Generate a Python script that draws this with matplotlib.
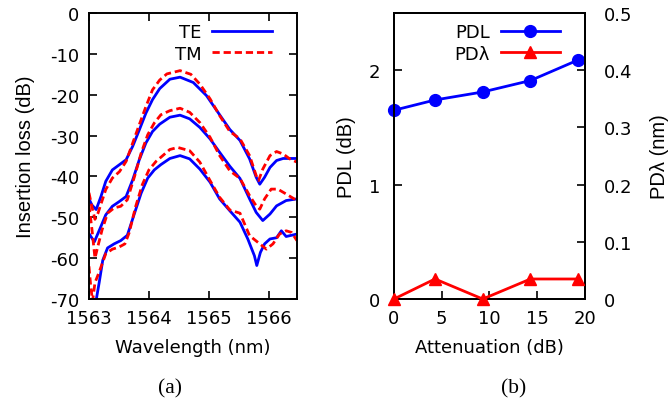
import numpy as np
import matplotlib
matplotlib.use("Agg")
import matplotlib.pyplot as plt

# the reference is stretched sideways: wide DejaVu for horizontal text, narrower Liberation for vertical
plt.rcParams['font.family'] = ['DejaVu Sans']
plt.rcParams['font.size'] = 13
plt.rcParams['axes.unicode_minus'] = False

# (a) insertion loss spectra, three attenuation settings
te1_wl = [1563.00, 1563.05, 1563.12, 1563.20, 1563.28, 1563.39, 1563.51, 1563.62, 1563.73, 1563.84,
          1563.95, 1564.06, 1564.18, 1564.35, 1564.52, 1564.74, 1564.96, 1565.18, 1565.35,
          1565.52, 1565.68, 1565.79, 1565.85, 1565.93, 1566.02, 1566.13, 1566.24, 1566.47]
te1_il = [-45.5, -47.0, -48.1, -44.9, -41.2, -38.4, -37.1, -35.9, -32.6, -28.6,
          -24.5, -21.2, -18.5, -16.2, -15.7, -17.0, -20.2, -24.9, -28.5,
          -31.2, -35.7, -40.2, -41.9, -40.2, -37.8, -36.1, -35.6, -35.6]

tm1_wl = [1563.00, 1563.05, 1563.10, 1563.15, 1563.28, 1563.39, 1563.51, 1563.62, 1563.73, 1563.84,
          1563.95, 1564.06, 1564.18, 1564.30, 1564.52, 1564.70, 1564.85, 1565.02, 1565.18, 1565.35,
          1565.52, 1565.68, 1565.79, 1565.83, 1565.90, 1566.02, 1566.13, 1566.24, 1566.35, 1566.47]
tm1_il = [-44.0, -47.5, -50.5, -49.0, -43.2, -40.4, -38.8, -36.3, -31.8, -27.3,
          -22.9, -18.8, -16.4, -14.9, -14.1, -15.0, -17.4, -21.0, -25.1, -29.0,
          -30.8, -34.9, -39.8, -41.0, -38.2, -34.9, -33.9, -34.5, -35.7, -36.5]

te2_wl = [1563.00, 1563.09, 1563.20, 1563.28, 1563.39, 1563.51, 1563.62, 1563.73, 1563.84, 1563.95,
          1564.06, 1564.18, 1564.35, 1564.52, 1564.68, 1564.85, 1565.02, 1565.18, 1565.35, 1565.52,
          1565.68, 1565.79, 1565.90, 1566.02, 1566.13, 1566.29, 1566.47]
te2_il = [-54.0, -56.0, -52.2, -49.4, -47.3, -46.1, -44.9, -40.8, -35.9, -31.8,
          -29.0, -27.2, -25.5, -25.0, -25.9, -28.0, -30.8, -34.1, -37.5, -40.5,
          -45.5, -48.8, -50.8, -49.2, -47.2, -45.9, -45.5]

tm2_wl = [1563.00, 1563.05, 1563.10, 1563.15, 1563.22, 1563.31, 1563.42, 1563.53, 1563.64, 1563.76,
          1563.87, 1563.98, 1564.09, 1564.20, 1564.35, 1564.52, 1564.68, 1564.85, 1565.02, 1565.18,
          1565.35, 1565.52, 1565.68, 1565.79, 1565.85, 1565.93, 1566.04, 1566.15, 1566.29, 1566.47]
tm2_il = [-47.0, -53.0, -60.0, -57.0, -53.0, -49.0, -47.7, -47.3, -45.7, -40.0,
          -34.3, -29.8, -26.9, -24.9, -23.9, -23.3, -24.3, -26.8, -30.4, -34.9,
          -38.6, -40.5, -44.7, -47.2, -48.0, -45.5, -43.1, -43.1, -44.3, -45.9]

te3_wl = [1563.03, 1563.10, 1563.17, 1563.23, 1563.31, 1563.42, 1563.53, 1563.64, 1563.76, 1563.87,
          1563.98, 1564.09, 1564.20, 1564.35, 1564.52, 1564.68, 1564.85, 1565.02, 1565.18, 1565.35,
          1565.52, 1565.65, 1565.76, 1565.80, 1565.86, 1565.93, 1566.02, 1566.13, 1566.21, 1566.29, 1566.47]
te3_il = [-73.0, -72.0, -66.0, -60.5, -57.5, -56.5, -55.7, -54.4, -49.0, -44.1,
          -40.4, -38.4, -37.1, -35.6, -34.9, -35.7, -38.2, -41.4, -45.5, -48.4,
          -51.2, -55.3, -59.4, -61.8, -58.6, -56.5, -55.3, -55.0, -53.3, -54.7, -54.1]

tm3_wl = [1563.00, 1563.03, 1563.06, 1563.10, 1563.17, 1563.28, 1563.39, 1563.50, 1563.60, 1563.67,
          1563.78, 1563.89, 1564.00, 1564.12, 1564.20, 1564.35, 1564.48, 1564.68, 1564.85, 1565.02,
          1565.18, 1565.35, 1565.52, 1565.68, 1565.85, 1565.96, 1566.07, 1566.18, 1566.29, 1566.38, 1566.47]
tm3_il = [-62.0, -67.0, -70.5, -66.0, -63.4, -58.9, -57.8, -57.3, -56.5, -53.8,
          -47.3, -42.0, -38.4, -36.3, -35.3, -33.4, -32.9, -33.7, -36.5, -41.0,
          -45.1, -48.2, -49.0, -54.5, -56.5, -57.8, -56.5, -54.1, -53.3, -53.7, -55.7]

# (b) polarization dependence vs attenuation
atten = [0, 4.3, 9.3, 14.3, 19.3]
pdl = [1.65, 1.74, 1.81, 1.91, 2.09]
pd_lambda = [0.0, 0.035, 0.0, 0.035, 0.035]

fig = plt.figure(figsize=(6.7, 4.02), dpi=100)
ax1 = fig.add_axes([0.1328, 0.2537, 0.3104, 0.7114])
ax2 = fig.add_axes([0.588, 0.2537, 0.285, 0.7114])

blue = '#0000ff'
red = '#ff0000'
vfont = dict(family='Liberation Sans', fontsize=14.5)

te_sets = [(te1_wl, te1_il), (te2_wl, te2_il), (te3_wl, te3_il)]
tm_sets = [(tm1_wl, tm1_il), (tm2_wl, tm2_il), (tm3_wl, tm3_il)]
for i, (wl, il) in enumerate(te_sets):
    ax1.plot(wl, il, color=blue, lw=2, label='TE' if i == 0 else None)
for i, (wl, il) in enumerate(tm_sets):
    ax1.plot(wl, il, color=red, lw=2, ls=(0, (2.6, 1.4)), label='TM' if i == 0 else None)

ax1.set_xlim(1563, 1566.47)
ax1.set_ylim(-70, 0)
ax1.set_xticks([1563, 1564, 1565, 1566])
ax1.set_yticks(np.arange(-70, 1, 10))
ax1.set_xlabel('Wavelength (nm)', labelpad=8)
ax1.set_ylabel('Insertion loss (dB)', labelpad=11, **vfont)
ax1.tick_params(direction='in', length=6, width=1.2, top=True, right=True, pad=7)
ax1.legend(loc='upper right', bbox_to_anchor=(0.88, 0.965), markerfirst=False, frameon=False,
           handlelength=3.3, borderpad=0, borderaxespad=0, labelspacing=0.2, handletextpad=0.6)

ax2.plot(atten, pdl, color=blue, lw=2, marker='o', ms=8.5, clip_on=False, zorder=5, label='PDL')
ax2b = ax2.twinx()
ax2b.plot(atten, pd_lambda, color=red, lw=2, marker='^', ms=8, clip_on=False, zorder=5,
          label='PD\u03bb')
ax2.set_xlim(0, 20)
ax2.set_ylim(0, 2.5)
ax2b.set_ylim(0, 0.5)
ax2.set_xticks([0, 5, 10, 15, 20])
ax2.set_yticks([0, 1, 2])
ax2b.set_yticks([0, 0.1, 0.2, 0.3, 0.4, 0.5])
ax2b.set_yticklabels(['0', '0.1', '0.2', '0.3', '0.4', '0.5'])
ax2.set_xlabel('Attenuation (dB)', labelpad=8)
ax2.set_ylabel('PDL (dB)', labelpad=9, **vfont)
ax2b.set_ylabel('PD\u03bb (nm)', labelpad=12, **vfont)
ax2.tick_params(direction='in', length=6, width=1.2, pad=7)
ax2.tick_params(axis='y', pad=10)
ax2b.tick_params(direction='in', length=6, width=1.2, pad=14)

h1, l1 = ax2.get_legend_handles_labels()
h2, l2 = ax2b.get_legend_handles_labels()
ax2b.legend(h1 + h2, l1 + l2, loc='upper right', bbox_to_anchor=(0.87, 0.965), markerfirst=False,
            frameon=False, handlelength=3.3, borderpad=0, borderaxespad=0, labelspacing=0.2,
            handletextpad=0.6)

for ax in (ax1, ax2, ax2b):
    for s in ax.spines.values():
        s.set_linewidth(1.4)

fig.text(0.254, 0.02, '(a)', family='Liberation Serif', fontsize=15.5, ha='center')
fig.text(0.766, 0.02, '(b)', family='Liberation Serif', fontsize=15.5, ha='center')

fig.savefig('out.png', dpi=100)
